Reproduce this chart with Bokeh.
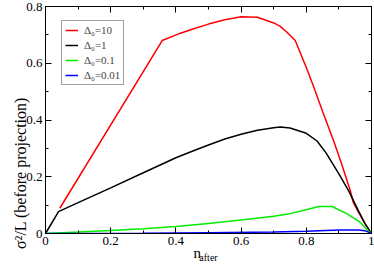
import math
from bokeh.plotting import figure
from bokeh.models import (Legend, LegendItem, LinearAxis, FixedTicker, Range1d,
                          CustomLabelingPolicy)
from bokeh.embed import file_html
from bokeh.resources import INLINE

# ---- data ----
labels = ["Δ₀=10", "Δ₀=1", "Δ₀=0.1", "Δ₀=0.01"]
colors = ["#ff0000", "#000000", "#00ee00", "#0000ff"]

x_d10 = [0.044, 0.358, 0.414, 0.45, 0.5, 0.55, 0.6, 0.65, 0.7, 0.72, 0.74, 0.766, 0.8, 0.822, 0.85, 0.884, 0.91, 0.935, 0.944, 0.96, 0.98, 1.0]
y_d10 = [0.089, 0.68, 0.706, 0.72, 0.738, 0.753, 0.764, 0.762, 0.742, 0.73, 0.71, 0.68, 0.585, 0.519, 0.43, 0.326, 0.24, 0.151, 0.11, 0.075, 0.035, 0.0]

x_d1 = [0, 0.04, 0.1, 0.2, 0.3, 0.4, 0.45, 0.5, 0.55, 0.6, 0.65, 0.7, 0.72, 0.75, 0.8, 0.833, 0.86, 0.9, 0.93, 0.96, 0.98, 1.0]
y_d1 = [0, 0.077, 0.109, 0.161, 0.214, 0.267, 0.29, 0.312, 0.333, 0.35, 0.364, 0.373, 0.375, 0.372, 0.353, 0.326, 0.285, 0.21, 0.15, 0.08, 0.035, 0.0]

x_d01 = [0, 0.1, 0.2, 0.3, 0.4, 0.5, 0.6, 0.7, 0.75, 0.8, 0.838, 0.879, 0.925, 0.965, 0.99, 1.0]
y_d01 = [0, 0.005, 0.011, 0.017, 0.025, 0.035, 0.048, 0.061, 0.07, 0.084, 0.095, 0.095, 0.069, 0.04, 0.01, 0.0]

x_d001 = [0, 0.3, 0.5, 0.7, 0.8, 0.86, 0.9, 0.96, 0.98, 1.0]
y_d001 = [0, 0.001, 0.003, 0.005, 0.008, 0.011, 0.012, 0.012, 0.01, 0.0]

x_ticks = [0, 0.2, 0.4, 0.6, 0.8, 1.0]
x_tick_labels = ["0", "0.2", "0.4", "0.6", "0.8", "1"]
x_minor = [0.1, 0.3, 0.5, 0.7, 0.9]
y_ticks = [0, 0.2, 0.4, 0.6, 0.8]
y_tick_labels = ["0", "0.2", "0.4", "0.6", "0.8"]
y_minor = [0.1, 0.3, 0.5, 0.7]

y_title = "σ²/L (before projection)"
x_title_main = "n"
x_title_sub = "after"

FONT = "Liberation Serif"

p = figure(width=374, height=265, output_backend="svg", toolbar_location=None,
           x_range=Range1d(0, 1), y_range=Range1d(0, 0.8),
           min_border_left=45, min_border_right=3, min_border_top=6, min_border_bottom=32,
           x_axis_type=None, y_axis_type=None)
p.grid.visible = False
p.background_fill_color = "white"
p.border_fill_color = "white"
p.outline_line_color = "black"
p.outline_line_width = 1

no_labels = CustomLabelingPolicy(code="return new Set()")


def tick_axis(ticks, minor, tick_labels, show_labels):
    ax = LinearAxis()
    ax.ticker = FixedTicker(ticks=ticks, minor_ticks=minor)
    ax.major_tick_in = 6
    ax.major_tick_out = 0
    ax.minor_tick_in = 3
    ax.minor_tick_out = 0
    ax.major_tick_line_color = "black"
    ax.minor_tick_line_color = "black"
    ax.axis_line_color = "black"
    if show_labels:
        ax.major_label_overrides = {t: l for t, l in zip(ticks, tick_labels)}
        ax.major_label_text_font = FONT
        ax.major_label_text_font_size = "13px"
        ax.major_label_text_color = "black"
        ax.major_label_standoff = 3
    else:
        ax.major_label_policy = no_labels
        ax.major_label_text_font_size = "0px"
        ax.major_label_standoff = 0
    return ax


def tick_title_axis(text, size, pos, standoff, orientation="horizontal"):
    # axis with no ticks whose single tick label is the title text
    ax = LinearAxis(ticker=FixedTicker(ticks=[pos], minor_ticks=[]))
    ax.axis_line_color = None
    ax.major_tick_line_color = None
    ax.minor_tick_line_color = None
    ax.major_tick_in = 0
    ax.major_tick_out = 0
    ax.minor_tick_in = 0
    ax.minor_tick_out = 0
    ax.major_label_overrides = {pos: text}
    ax.major_label_orientation = orientation
    ax.major_label_text_font = FONT
    ax.major_label_text_font_size = size
    ax.major_label_text_color = "black"
    ax.major_label_standoff = standoff
    return ax


def label_title_axis(text, size, standoff):
    # axis with no ticks whose axis label is the title text
    ax = LinearAxis(ticker=FixedTicker(ticks=[], minor_ticks=[]))
    ax.axis_line_color = None
    ax.major_tick_in = 0
    ax.major_tick_out = 0
    ax.minor_tick_in = 0
    ax.minor_tick_out = 0
    ax.major_label_standoff = 0
    ax.axis_label = text
    ax.axis_label_text_font = FONT
    ax.axis_label_text_font_size = size
    ax.axis_label_text_font_style = "normal"
    ax.axis_label_text_color = "black"
    ax.axis_label_standoff = standoff
    return ax


p.add_layout(tick_axis(x_ticks, x_minor, x_tick_labels, True), "below")
p.add_layout(tick_axis(y_ticks, y_minor, y_tick_labels, True), "left")
p.add_layout(tick_axis(x_ticks, x_minor, x_tick_labels, False), "above")
p.add_layout(tick_axis(y_ticks, y_minor, y_tick_labels, False), "right")

# y title
p.add_layout(tick_title_axis(y_title, "16px", 0.365, 3, math.pi / 2), "left")
# x title: "n" (padded with no-break spaces so it sits left of centre) and subscript "after"
p.add_layout(label_title_axis(x_title_main + "\u00a0" * 6, "15px", -3), "below")
p.add_layout(label_title_axis(x_title_sub, "10px", -12), "below")

series = [(x_d10, y_d10), (x_d1, y_d1), (x_d01, y_d01), (x_d001, y_d001)]
items = []
for (xs, ys), lab, col in zip(series, labels, colors):
    r = p.line(xs, ys, line_color=col, line_width=1.5)
    items.append(LegendItem(label=lab, renderers=[r]))

legend = Legend(items=items, location=(16, 148))
legend.label_text_font = FONT
legend.label_text_font_size = "11px"
legend.label_height = 12
legend.glyph_height = 12
legend.glyph_width = 13
legend.spacing = 3
legend.padding = 3
legend.margin = 0
legend.label_standoff = 6
legend.border_line_color = "#444444"
legend.border_line_width = 1
legend.background_fill_alpha = 1
p.add_layout(legend, "center")

open("out.html", "w").write(file_html(p, INLINE))
